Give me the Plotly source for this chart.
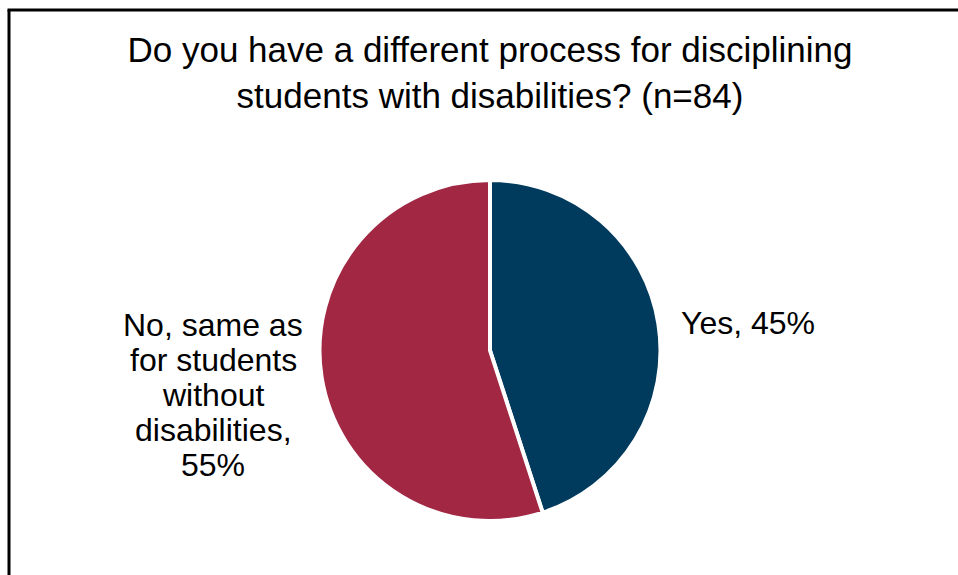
import plotly.graph_objects as go

W, H = 958, 575

# ── Data ─────────────────────────────────────────────────────────────────────
labels = ["Yes", "No, same as<br>for students<br>without<br>disabilities"]
values = [45, 55]
colors = ["#003A5C", "#A12743"]
title_text = ("Do you have a different process for disciplining<br>"
              "students with disabilities? (n=84)")

FONT = "Liberation Sans, Arial, sans-serif"

# pie centre / radius in pixels
cx, cy, r = 490, 350.5, 170.5

fig = go.Figure(go.Pie(
    labels=labels,
    values=values,
    sort=False,
    direction="clockwise",
    rotation=0,
    marker=dict(colors=colors, line=dict(color="white", width=4)),
    textinfo="none",
    hoverinfo="label+percent",
    showlegend=False,
    domain=dict(x=[(cx - r) / W, (cx + r) / W],
                y=[1 - (cy + r) / H, 1 - (cy - r) / H]),
))

# data labels, one annotation per line so line spacing matches
label_pos = [(748, 323), (213, 325)]
LINE_H = 35
for lab, val, (px, py) in zip(labels, values, label_pos):
    lines = lab.split("<br>")
    if len(lines) == 1:
        lines = [f"{lab}, {val}%"]
    else:
        lines[-1] += ","
        lines.append(f"{val}%")
    for i, ln in enumerate(lines):
        fig.add_annotation(
            x=px / W, y=1 - (py + i * LINE_H) / H, xref="paper", yref="paper",
            text=ln, showarrow=False, xanchor="center", yanchor="middle",
            font=dict(family=FONT, size=32, color="black"),
        )

# frame: only the left and top edges are visible
fig.add_shape(type="line", xref="paper", yref="paper",
              x0=9 / W, x1=9 / W, y0=-0.1, y1=1 - 10 / H,
              line=dict(color="black", width=3))
fig.add_shape(type="line", xref="paper", yref="paper",
              x0=7.5 / W, x1=1.05, y0=1 - 10 / H, y1=1 - 10 / H,
              line=dict(color="black", width=3))

fig.update_layout(
    width=W, height=H,
    margin=dict(l=0, r=0, t=0, b=0),
    paper_bgcolor="white", plot_bgcolor="white",
    title=dict(text=title_text, x=cx / W, xanchor="center",
               y=1 - 62 / H, yanchor="middle",
               font=dict(family=FONT, size=35, color="black")),
)

# drop the default body margin so the figure sits at the page origin
fig.write_html(
    "out.html",
    config={"displayModeBar": False},
    post_script="document.body.style.margin='0';"
                "document.body.style.overflow='hidden';",
)
